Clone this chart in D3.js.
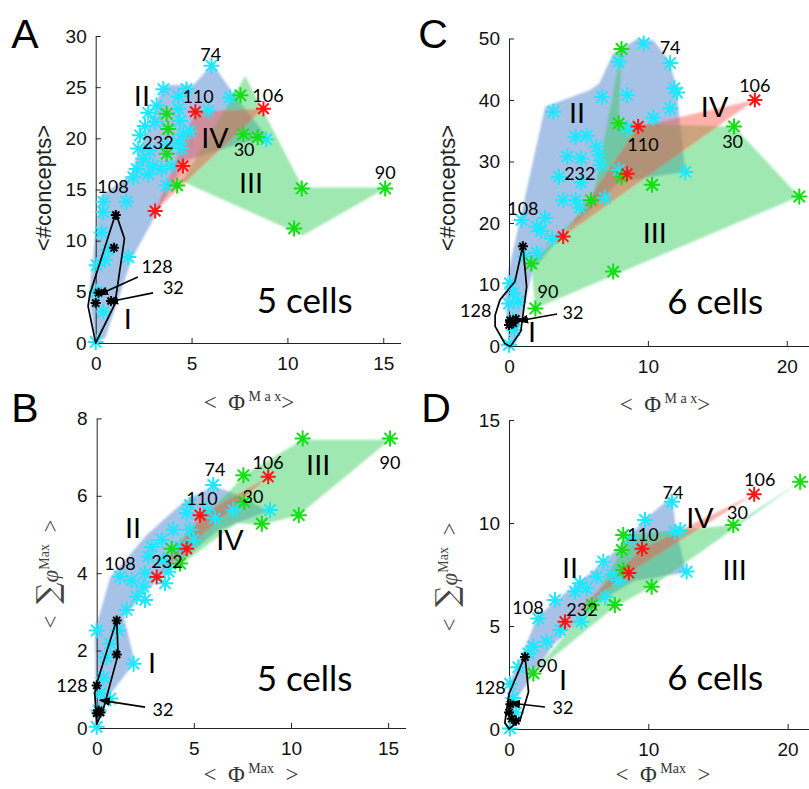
<!DOCTYPE html>
<html>
<head>
<meta charset="utf-8">
<script src="https://cdn.jsdelivr.net/npm/d3@7"></script>
<style>
body { margin: 0; background: #fff; }
svg { display: block; }
text { white-space: pre; }
</style>
</head>
<body>
<div id="chart"></div>
<script>
// ---------------- data ----------------
// panel A : 5 cells, <#concepts> vs <PhiMax>
var xTicksA = [0, 5, 10, 15], yTicksA = [0, 5, 10, 15, 20, 25, 30];
var cyanA = [[6.04,27.1],[3.53,24.8],[4.31,24.1],[4.74,24.8],[3.18,23.2],[2.74,22.5],[4.31,22.9],[5.87,22.7],
  [7.0,24.0],[2.57,21.2],[3.1,21.6],[4.4,21.7],[4.56,20.4],[4.9,20.7],[2.31,20.3],[4.31,19.6],[8.9,19.9],
  [2.22,19.0],[2.83,18.8],[3.7,19.3],[4.48,19.0],[2.48,18.0],[3.0,17.3],[3.44,17.0],[3.96,17.3],[2.14,17.0],
  [2.74,16.5],[1.96,16.2],[3.7,15.4],[1.6,13.8],[0.4,13.8],[0.4,12.8],[0.31,10.8],[0.66,9.1],[1.7,8.4],
  [0.05,7.6],[0.48,8.1],[0.05,5.0],[0.4,3.05],[0,0.1]];
var greenA = [[3.7,22.4],[3.78,20.9],[3.7,18.5],[4.25,15.4],[7.55,24.2],[7.7,20.4],[8.45,20.1],[10.75,15.1],[10.35,11.2],[15.1,15.1]];
var redA = [[3.1,12.9],[4.55,17.3],[5.2,22.6],[8.75,22.9]];
var blackA = [[1.05,12.5],[0.95,9.3],[0.15,4.9],[0.0,3.9],[0.8,4.1]];
var blueHullA = [[0,0],[-0.35,4.6],[0.2,14.3],[1.8,16.4],[3.5,25.2],[5.1,25.2],[6.1,27.3],[7.2,24.3],[9.0,20.0],[7.5,19.5],[4.7,17.8],[1.9,8.3],[0.5,0.5]];
var greenHullA = [[4.5,15.8],[7.8,26.1],[10.8,15.2],[15.2,15.2],[10.8,10.5]];
var redHullA = [[3.1,12.9],[5.2,22.6],[8.75,22.9]];
var blackHullA = [[1.05,12.7],[1.5,10.2],[1.0,3.8],[0,0],[-0.4,3.6],[-0.3,4.8]];
var labelsA = [["74",6.0,28.2,"n"],["110",5.34,24.05,"n"],["106",8.99,24.2,"n"],["232",3.25,19.6,"n"],["30",7.74,18.9,"n"],
  ["90",15.1,16.7,"n"],["108",0.9,15.3,"n"],["128",3.2,7.5,"n"],["32",4.05,5.4,"n"],
  ["II",2.41,24.2,"r"],["IV",6.22,20.1,"r"],["III",8.1,15.7,"r"],["I",1.68,2.4,"r"],["5 cells",10.9,4.2,"c"]];
var arrowsA = [[[2.2,6.45],[0.12,4.7]],[[2.99,4.9],[0.64,4.0]]];

// panel C : 6 cells, <#concepts> vs <PhiMax>
var xTicksC = [0, 10, 20], yTicksC = [0, 10, 20, 30, 40, 50];
var cyanC = [[9.7,49.2],[11.6,46.0],[7.9,46.2],[11.9,41.9],[12.1,41.2],[6.7,40.5],[8.5,40.8],[3.2,38.1],[11.6,38.6],
  [10.4,37.1],[8.5,35.4],[4.8,34.0],[5.6,34.2],[6.3,32.4],[6.5,31.0],[4.2,30.8],[5.2,30.5],[6.6,29.4],[3.6,27.5],
  [7.9,28.6],[12.7,28.3],[5.2,26.6],[3.9,23.7],[4.8,23.7],[6.9,24.1],[5.1,22.5],[0.9,20.5],[2.0,19.4],[2.6,20.8],
  [2.3,18.7],[3.1,17.5],[2.0,15.1],[1.15,14.5],[0.07,10.2],[0.3,8.6],[0.67,7.2],[0,6.9],[0.3,4.2],[0.4,2.6],[0,0.2]];
var greenC = [[8.1,48.3],[7.9,36.2],[8.1,27.5],[10.3,26.2],[5.9,23.7],[1.6,13.4],[7.5,12.1],[1.9,6.1],[16.2,35.7],[20.9,24.3]];
var redC = [[3.9,17.8],[9.3,35.7],[8.5,28.0],[17.7,40.0]];
var blackC = [[1.0,16.2],[0.07,4.2],[0.31,3.7],[0,3.4],[0.5,4.4]];
var blueHullC = [[0,0],[-0.3,8],[-0.1,11.5],[2.6,38.9],[5.8,41.6],[6.5,42.7],[7.5,47.6],[9.3,50.0],[10.4,49.7],[11.5,46.5],
  [12.0,42.7],[12.7,28.3],[8.0,26.8],[3.9,18.3],[1.7,12.4],[0.5,0.5]];
var greenHullC = [[1.9,6.1],[20.9,24.3],[16.2,35.7],[7.9,36.2],[8.1,48.3],[6.0,23.7],[1.6,13.4]];
var redHullC = [[3.9,17.8],[17.7,40.0],[9.3,35.7]];
var blackHullC = [[1.0,16.3],[1.27,9.6],[0.85,2.4],[0.1,-0.1],[-0.3,0.4],[-1.0,3.2],[-1.0,5.0],[-0.65,7.5],[0.43,10.5]];
var labelsC = [["74",11.6,48.5,"n"],["106",17.7,42.4,"n"],["30",16.1,33.2,"n"],["110",9.65,32.7,"n"],["232",5.1,28.1,"n"],
  ["108",1.0,22.4,"n"],["90",2.8,8.8,"n"],["128",-2.4,5.85,"n"],["32",4.6,5.5,"n"],
  ["IV",14.8,38.9,"r"],["II",4.9,38.0,"r"],["III",10.5,18.4,"r"],["I",1.66,2.3,"r"],["6 cells",14.85,7.2,"c"]];
var arrowsC = [[[3.46,5.2],[0.65,4.07]]];

// panel B : 5 cells, <sum phiMax> vs <PhiMax>
var xTicksB = [0, 5, 10, 15], yTicksB = [0, 2, 4, 6, 8];
var cyanB = [[6.0,6.28],[4.8,5.76],[4.63,5.55],[5.66,5.63],[6.09,5.42],[7.03,5.63],[8.92,5.63],[3.94,5.12],[4.8,5.12],
  [4.97,4.86],[3.35,4.86],[2.83,4.68],[4.29,4.68],[2.66,4.43],[3.43,4.34],[1.2,3.91],[1.8,3.82],[2.49,4.0],[3.69,4.04],
  [2.4,3.65],[3.52,3.74],[2.06,3.39],[2.49,3.31],[1.54,3.05],[0,2.52],[1.1,2.52],[0.7,2.18],[1.9,1.66],[0.5,1.83],
  [0.35,1.3],[0.2,0.9],[0.7,0.76],[0,0.03],[0.1,0.45]];
var greenB = [[10.6,7.48],[15.1,7.48],[7.55,6.53],[7.6,5.84],[8.5,5.28],[10.4,5.5],[3.86,4.63],[4.29,4.25]];
var redB = [[8.83,6.49],[5.32,5.5],[4.63,4.63],[3.09,3.9]];
var blackB = [[1.03,2.78],[1.03,1.9],[0,1.1],[0.1,0.45],[0,0.38],[0.2,0.4]];
var blueHullB = [[0,0],[-0.1,2.5],[0.7,3.9],[2.6,5.0],[4.6,5.9],[6.0,6.25],[6.9,6.1],[8.1,5.8],[8.8,5.6],[6.2,5.1],
  [2.74,3.64],[1.4,2.86],[1.97,1.7],[0.5,0.75]];
var greenHullB = [[4.3,4.2],[3.9,4.65],[6.8,6.1],[7.6,6.55],[10.6,7.45],[15.1,7.45],[10.4,5.5],[8.5,5.25],[7.2,5.3]];
var redHullB = [[3.09,3.9],[5.32,5.5],[8.83,6.49],[4.63,4.63]];
var blackHullB = [[1.03,2.8],[1.1,1.9],[0.35,0.5],[0,0.1],[-0.1,0.9],[0,1.15]];
var labelsB = [["74",6.09,6.67,"n"],["106",8.82,6.87,"n"],["90",15.1,6.87,"n"],["110",5.42,5.94,"n"],["30",8.04,5.99,"n"],
  ["108",1.2,4.26,"n"],["232",3.62,4.29,"n"],["128",-1.27,1.11,"n"],["32",3.41,0.47,"n"],
  ["III",11.4,6.8,"r"],["II",1.87,5.19,"r"],["IV",6.86,4.86,"r"],["I",2.85,1.7,"r"],["5 cells",10.7,1.29,"c"]];
var arrowsB = [[[2.49,0.54],[0.17,0.72]]];

// panel D : 6 cells, <sum phiMax> vs <PhiMax>
var xTicksD = [0, 10, 20], yTicksD = [0, 5, 10, 15];
var cyanD = [[11.7,11.03],[9.76,10.15],[11.9,9.58],[12.3,9.66],[8.7,9.3],[6.77,8.12],[6.3,7.39],[7.85,7.23],[7.4,7.5],
  [12.75,7.64],[5.1,7.07],[5.58,6.83],[4.74,6.67],[3.3,6.26],[6.9,6.42],[2.1,5.37],[5.2,5.21],[3.66,4.8],[2.7,4.24],
  [1.75,4.0],[1.4,3.67],[0.67,3.0],[0.07,2.2],[0.3,1.5],[0.07,0.03],[0.5,0.8]];
var greenD = [[20.9,12.0],[16.1,9.9],[8.2,9.42],[8.1,8.69],[8.2,7.72],[10.24,6.91],[7.6,6.02],[5.94,6.02],[1.75,2.7]];
var redD = [[4.02,5.21],[8.6,7.57],[9.55,8.75],[17.6,11.4]];
var blackD = [[1.15,3.5],[0.1,1.2],[0.2,0.5],[0.5,0.4],[0,0.8]];
var blueHullD = [[0,0],[0,2.2],[1.0,3.7],[2.0,5.4],[3.3,6.2],[6.8,8.1],[9.8,10.2],[11.7,11.3],[12.0,9.6],[12.75,7.6],
  [9.0,7.2],[6.5,6.2],[3.2,4.1],[0.6,1.5]];
var greenHullD = [[1.75,2.7],[7.6,5.94],[10.24,6.91],[20.9,12.0],[16.1,9.9],[8.2,9.42],[8.1,8.69],[5.9,6.1]];
var redHullD = [[4.02,5.21],[9.55,8.75],[17.6,11.4],[8.6,7.57]];
var blackHullD = [[1.15,3.55],[1.4,1.8],[0.8,0.45],[0,0],[-0.3,0.3],[0,1.7]];
var labelsD = [["74",11.77,11.5,"n"],["106",18.0,12.1,"n"],["30",16.4,10.5,"n"],["110",9.62,9.42,"n"],["108",1.36,5.92,"n"],
  ["232",5.24,5.78,"n"],["90",2.73,3.1,"n"],["128",-1.36,1.99,"n"],["32",3.88,1.02,"n"],
  ["IV",13.7,10.24,"r"],["II",4.38,7.86,"r"],["III",16.2,7.72,"r"],["I",3.88,2.38,"r"],["6 cells",14.8,2.52,"c"]];
var arrowsD = [[[2.58,1.07],[0.07,1.26]]];

// ---------------- layout ----------------
var panels = [
  { letter: "A", letterAt: [25, 33], xDomain: [0, 15.9], xRange: [95.7, 400.5], yDomain: [0, 30], yRange: [343, 36],
    xTicks: xTicksA, yTicks: yTicksA, cyan: cyanA, green: greenA, red: redA, black: blackA,
    blueHull: blueHullA, greenHull: greenHullA, redHull: redHullA, blackHull: blackHullA,
    labels: labelsA, arrows: arrowsA, xLabel: "spaced", xLabelAt: [249, 410], yLabel: "concepts", yLabelAt: [43, 188] },
  { letter: "C", letterAt: [433, 33], xDomain: [0, 21.6], xRange: [509, 809], yDomain: [0, 50], yRange: [346, 38.5],
    xTicks: xTicksC, yTicks: yTicksC, cyan: cyanC, green: greenC, red: redC, black: blackC,
    blueHull: blueHullC, greenHull: greenHullC, redHull: redHullC, blackHull: blackHullC,
    labels: labelsC, arrows: arrowsC, xLabel: "spaced", xLabelAt: [665, 412], yLabel: "concepts", yLabelAt: [447, 188] },
  { letter: "B", letterAt: [25, 407], xDomain: [0, 15.9], xRange: [96.7, 405.6], yDomain: [0, 8], yRange: [728, 418.4],
    xTicks: xTicksB, yTicks: yTicksB, cyan: cyanB, green: greenB, red: redB, black: blackB,
    blueHull: blueHullB, greenHull: greenHullB, redHull: redHullB, blackHull: blackHullB,
    labels: labelsB, arrows: arrowsB, xLabel: "plain", xLabelAt: [251, 782], yLabel: "sum", yLabelAt: [52, 574] },
  { letter: "D", letterAt: [436, 407], xDomain: [0, 21.6], xRange: [509, 809.9], yDomain: [0, 15], yRange: [729, 420],
    xTicks: xTicksD, yTicks: yTicksD, cyan: cyanD, green: greenD, red: redD, black: blackD,
    blueHull: blueHullD, greenHull: greenHullD, redHull: redHullD, blackHull: blackHullD,
    labels: labelsD, arrows: arrowsD, xLabel: "plain", xLabelAt: [663, 782], yLabel: "sum", yLabelAt: [451, 577] }
];

var W = 809, H = 789;
var svg = d3.select("#chart").append("svg").attr("width", W).attr("height", H);
var defs = svg.append("defs");
defs.append("filter").attr("id", "soft").attr("x", "-10%").attr("y", "-10%").attr("width", "120%").attr("height", "120%")
    .append("feGaussianBlur").attr("stdDeviation", 1.2);
defs.append("marker").attr("id", "head").attr("viewBox", "0 0 10 10").attr("refX", 9).attr("refY", 5)
    .attr("markerWidth", 7).attr("markerHeight", 7).attr("orient", "auto")
  .append("path").attr("d", "M0,1L10,5L0,9Z").attr("fill", "#000");

function star(r)
{
    var a = r * 0.7071;
    return "M" + (-r) + ",0L" + r + ",0M0," + (-r) + "L0," + r +
           "M" + (-a) + "," + (-a) + "L" + a + "," + a + "M" + (-a) + "," + a + "L" + a + "," + (-a);
}

var sansFont = "'Liberation Sans', Arial, sans-serif";
var noteFont = "Lato, 'Open Sans', sans-serif";
var serifFont = "'Liberation Serif', 'DejaVu Serif', serif";

function drawPanel(p)
{
    var x = d3.scaleLinear().domain(p.xDomain).range(p.xRange);
    var y = d3.scaleLinear().domain(p.yDomain).range(p.yRange);
    var line = d3.line().x(function(d) { return x(d[0]); }).y(function(d) { return y(d[1]); });
    var g = svg.append("g");

    // hull patches
    var hulls = g.append("g").attr("filter", "url(#soft)");
    [[p.blueHull, "#4f86d0", 0.5], [p.greenHull, "#2ecc55", 0.45], [p.redHull, "#ff5040", 0.45]].forEach(function(h) {
        hulls.append("path").attr("d", line(h[0]) + "Z")
             .attr("fill", h[1]).attr("fill-opacity", h[2]).attr("stroke", "none");
    });

    // axes
    var xAxis = d3.axisBottom(x).tickValues(p.xTicks).tickSize(-5).tickSizeOuter(0).tickPadding(14);
    var yAxis = d3.axisLeft(y).tickValues(p.yTicks).tickSize(-5).tickSizeOuter(0).tickPadding(9);
    var gx = g.append("g").attr("transform", "translate(0," + y(0) + ")").call(xAxis);
    var gy = g.append("g").attr("transform", "translate(" + x(0) + ",0)").call(yAxis);
    [gx, gy].forEach(function(a) {
        a.selectAll("path, line").attr("stroke", "#222").attr("stroke-width", 1);
        a.selectAll("text").attr("font-family", sansFont).attr("font-size", 19).attr("fill", "#111");
    });

    // points
    [[p.cyan, "#1ee8ff", 8], [p.green, "#12e012", 8], [p.red, "#ff1515", 7.5], [p.black, "#000", 5]].forEach(function(s) {
        g.append("g").selectAll("path").data(s[0]).enter().append("path")
         .attr("d", star(s[2]))
         .attr("transform", function(d) { return "translate(" + x(d[0]) + "," + y(d[1]) + ")"; })
         .attr("stroke", s[1]).attr("stroke-width", 2).attr("fill", "none");
    });

    // group I outline
    g.append("path").attr("d", line(p.blackHull) + "Z")
     .attr("fill", "none").attr("stroke", "#000").attr("stroke-width", 1.7).attr("stroke-linejoin", "round");

    // arrows
    g.append("g").selectAll("line").data(p.arrows).enter().append("line")
     .attr("x1", function(d) { return x(d[0][0]); }).attr("y1", function(d) { return y(d[0][1]); })
     .attr("x2", function(d) { return x(d[1][0]); }).attr("y2", function(d) { return y(d[1][1]); })
     .attr("stroke", "#000").attr("stroke-width", 1.6).attr("marker-end", "url(#head)");

    // annotations
    var sizes = { n: 18, r: 29, c: 35 };
    g.append("g").selectAll("text").data(p.labels).enter().append("text")
     .attr("x", function(d) { return x(d[1]); }).attr("y", function(d) { return y(d[2]); })
     .attr("dy", "0.36em").attr("text-anchor", "middle")
     .attr("font-family", function(d) { return d[3] == "r" ? sansFont : noteFont; })
     .attr("font-size", function(d) { return sizes[d[3]]; })
     .attr("fill", "#000")
     .text(function(d) { return d[0]; });

    // panel letter
    svg.append("text").attr("x", p.letterAt[0]).attr("y", p.letterAt[1]).attr("dy", "0.36em")
       .attr("text-anchor", "middle").attr("font-family", sansFont).attr("font-size", 41).text(p.letter);

    // x label
    var xl = svg.append("text").attr("x", p.xLabelAt[0]).attr("y", p.xLabelAt[1])
                .attr("text-anchor", "middle").attr("font-family", serifFont).attr("fill", "#333");
    xl.append("tspan").attr("font-size", 23).text("<  \u03A6");
    xl.append("tspan").attr("font-size", 14).attr("dy", -9).text(p.xLabel == "spaced" ? " M a x" : " Max");
    xl.append("tspan").attr("font-size", 23).attr("dy", 9).text(p.xLabel == "spaced" ? ">" : "  >");

    // y label
    var yl = svg.append("text").attr("transform", "translate(" + p.yLabelAt[0] + "," + p.yLabelAt[1] + ") rotate(-90)")
                .attr("text-anchor", "middle").attr("dy", "0.36em").attr("fill", "#222");
    if (p.yLabel == "concepts") {
        yl.attr("font-family", sansFont).attr("font-size", 22).text("<#concepts>");
    } else {
        yl.attr("font-family", serifFont).attr("fill", "#444");
        yl.append("tspan").attr("font-size", 23).text("<  ");
        yl.append("tspan").attr("font-size", 30).attr("font-family", "'DejaVu Serif', serif").text("\u2211");
        yl.append("tspan").attr("font-size", 23).attr("font-style", "italic").text("\u03C6");
        yl.append("tspan").attr("font-size", 14).attr("dy", -9).text("Max");
        yl.append("tspan").attr("font-size", 23).attr("dy", 9).text("  >");
    }
}

panels.forEach(drawPanel);
</script>
</body>
</html>
